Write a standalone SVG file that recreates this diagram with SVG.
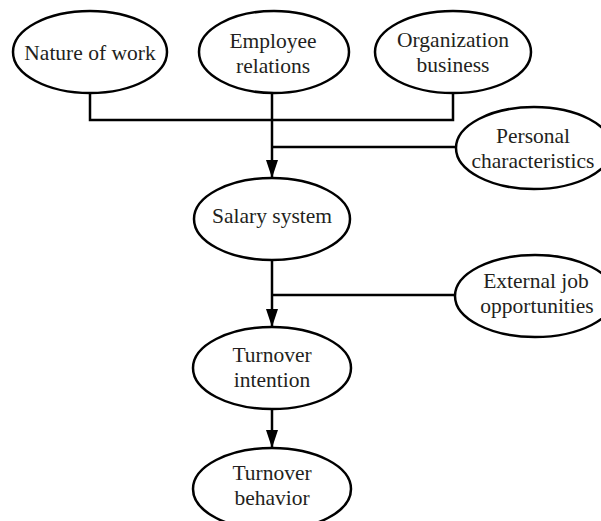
<svg xmlns="http://www.w3.org/2000/svg" width="601" height="521" viewBox="0 0 601 521">
<defs>
<style>
.node ellipse{fill:#fff;stroke:#000;stroke-width:2.5}
.node text{font-family:"Liberation Serif","Times New Roman",serif;font-size:21.5px;fill:#231f20;text-anchor:middle}
.conn{fill:none;stroke:#000;stroke-width:2.5}
</style>
<marker id="arr" markerUnits="userSpaceOnUse" markerWidth="18" markerHeight="12" refX="18" refY="6" viewBox="0 0 18 12" orient="auto">
<path d="M0,0 L18,6 L0,12 Z" fill="#000"/>
</marker>
</defs>
<rect width="601" height="521" fill="#fff"/>
<g id="connectors">
<path class="conn" d="M90,93 V120 H453 V93"/>
<path class="conn" d="M272,93 V178" marker-end="url(#arr)"/>
<path class="conn" d="M272,147 H456"/>
<path class="conn" d="M272,260 V327" marker-end="url(#arr)"/>
<path class="conn" d="M272,295 H456"/>
<path class="conn" d="M272,408 V448" marker-end="url(#arr)"/>
</g>
<g id="nature" class="node"><ellipse cx="90" cy="52" rx="77" ry="41"/><text x="90" y="60">Nature of work</text></g>
<g id="employee" class="node"><ellipse cx="274" cy="52" rx="75" ry="41"/><text x="273" y="48">Employee</text><text x="273" y="73">relations</text></g>
<g id="organization" class="node"><ellipse cx="453" cy="52" rx="78" ry="41"/><text x="453" y="47">Organization</text><text x="453" y="72">business</text></g>
<g id="personal" class="node"><ellipse cx="534" cy="148" rx="78" ry="41"/><text x="533" y="143">Personal</text><text x="533" y="168">characteristics</text></g>
<g id="salary" class="node"><ellipse cx="272" cy="219" rx="78" ry="41"/><text x="272" y="223">Salary system</text></g>
<g id="external" class="node"><ellipse cx="535" cy="296" rx="80" ry="41"/><text x="536" y="288">External job</text><text x="537" y="313">opportunities</text></g>
<g id="intention" class="node"><ellipse cx="272" cy="368" rx="79" ry="41"/><text x="272" y="362">Turnover</text><text x="272" y="387">intention</text></g>
<g id="behavior" class="node"><ellipse cx="272" cy="489" rx="79" ry="41"/><text x="272" y="480">Turnover</text><text x="272" y="505">behavior</text></g>
</svg>
